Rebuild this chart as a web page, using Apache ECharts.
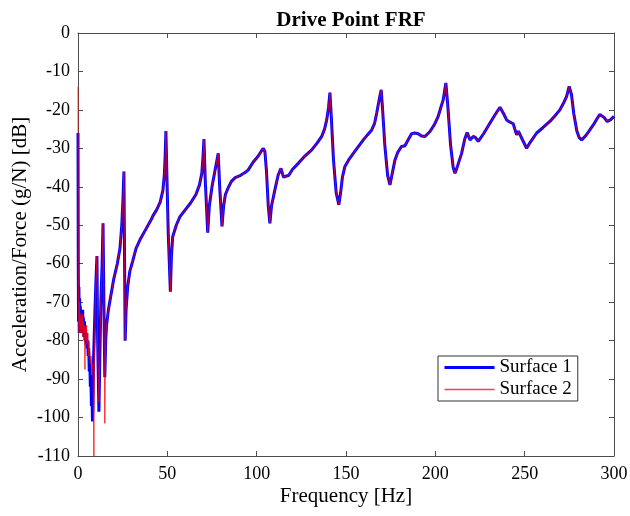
<!DOCTYPE html>
<html lang="en">

<head>
    <meta charset="UTF-8">
    <title>Drive Point FRF</title>
    <script src="https://cdn.jsdelivr.net/npm/echarts@6/dist/echarts.min.js"></script>
    <style>
        html, body { margin: 0; padding: 0; background: #fff; }
        .frf { width: 630px; height: 516px; }
    </style>
</head>

<body>
    <div class="frf"></div>
</body>
<script>
    // low frequency part differs between the two surfaces
    const lowFreq1 = [0, 0.15, 0.3, 0.5, 0.7, 0.9, 1.1, 1.3, 1.5, 1.7, 1.9, 2.1, 2.4, 2.6, 2.8, 3.0, 3.3, 3.6, 3.9, 4.2, 4.5, 4.8, 5.1, 5.4, 5.7, 6.0, 6.3, 6.6, 6.9, 7.2, 7.5, 7.8, 8.1, 8.4, 8.7, 9.0, 9.5, 10.0, 10.6, 11.0, 11.7, 12.2, 12.8, 13.5, 14.0, 14.5, 15.0, 15.5]
    const lowDb1 = [-26, -60, -75, -66, -78, -69, -74, -71, -78, -72, -75, -73, -77, -72, -76, -74, -79, -75, -80, -77, -81, -78, -82, -80, -84, -82, -88, -85, -92, -89, -97, -93, -101, -95, -85, -80, -72, -65, -58, -80, -98.5, -85, -70, -60, -49.5, -70, -89.5, -80]

    const lowFreq2 = [0, 0.1, 0.2, 0.4, 0.6, 0.8, 1.0, 1.2, 1.5, 1.8, 2.1, 2.4, 2.7, 3.0, 3.3, 3.6, 3.9, 4.2, 4.5, 4.8, 5.1, 5.5, 5.8, 6.1, 6.5, 6.9, 7.3, 7.7, 8.1, 8.5, 8.9, 9.2, 9.6, 10.0, 10.6, 11.0, 11.7, 12.2, 12.8, 13.5, 14.0, 14.5, 15.0, 15.5]
    const lowDb2 = [-14, -40, -65, -72, -78, -70, -76, -73, -78, -74, -77, -73, -79, -75, -78, -76, -87.5, -77, -80, -76, -81, -78, -84, -80, -83, -86, -84, -88, -86, -90, -110, -85, -72, -65, -58, -80, -96, -85, -70, -60, -49.5, -70, -101.5, -80]

    // above ~16 Hz both surfaces lie on top of each other
    const freq = [16, 17, 18.5, 20, 22, 23.5, 24.5, 25.2, 25.7, 26.0, 26.4, 26.9, 27.8, 29, 30.5, 32.5, 35, 38, 41, 42, 42.5, 44, 46, 47.5, 48.3, 48.8, 49.2, 49.8, 50.5, 51.7, 52.3, 53, 55, 57, 60, 63, 66, 68, 69.3, 70, 70.5, 71.2, 72.6, 73.5, 75, 77, 78, 78.5, 79.3, 80.6, 81.5, 82.5, 84.1, 86, 88, 91, 93.5, 95.3, 98, 100.9, 102.5, 103.7, 104.6, 105.5, 106.5, 107.4, 108.3, 110.2, 112, 113.6, 115, 115.8, 118, 120, 123.3, 127, 130.8, 134, 136.4, 138, 139.2, 140.2, 141, 141.8, 143, 144.5, 146, 147, 148, 149.4, 151.5, 154.1, 157, 159.7, 162, 164.4, 166, 167.2, 168.5, 169.7, 170.5, 171.7, 173.3, 174.6, 175.7, 177.4, 179, 181.1, 183, 184.5, 186.7, 188.5, 190.4, 192.3, 194.2, 197, 199.5, 201.6, 203, 204.4, 205.9, 207, 208.5, 210, 211, 212.5, 214.7, 216.5, 217.8, 219.4, 221.2, 222.5, 224, 225, 227, 230.6, 233.5, 236.2, 238, 239.9, 241.8, 243.6, 244.5, 245.5, 246.5, 247.3, 248.5, 251.1, 253, 256.7, 260, 264.1, 267, 269.7, 272, 273.5, 274.9, 276.2, 277.5, 279.2, 280.5, 281.9, 284, 286, 288.4, 290.5, 292, 293.1, 294.5, 296.2, 298, 300]
    const dbShared = [-76, -72, -68, -64, -60, -56, -50, -43, -36, -55, -80, -72, -66, -62, -59.5, -56, -53.5, -51, -48.5, -47.5, -47.8, -46, -44, -41, -37, -32, -25.5, -38, -52, -67.3, -58, -53, -50, -47.8, -46, -44.2, -42, -39.5, -36.5, -32, -27.6, -38, -51.9, -45, -40, -35, -32.5, -31.3, -40, -50.3, -45, -42, -40.2, -38.5, -37.6, -37, -36.3, -35.6, -33.6, -32, -30.8, -30, -30.8, -36, -45, -49.5, -45, -40.8, -37, -35.2, -37.5, -37.8, -37, -35.5, -33.9, -32, -30.4, -28.5, -26.9, -25, -22.6, -19.5, -15.5, -22, -33, -41.5, -44.7, -41.5, -37.5, -34.7, -33, -31.3, -29.5, -27.8, -26.5, -25.2, -23.5, -20.8, -17.5, -14.8, -20, -29, -37, -39.5, -37, -33, -31, -29.5, -29.3, -28, -26.2, -26, -26.2, -26.8, -26.9, -25.6, -23.8, -21.7, -19.5, -17.4, -13, -19, -29, -35, -36.5, -34.5, -31.3, -27.5, -25.9, -27.8, -26.9, -27.2, -28.2, -27.8, -26.2, -23.4, -21.2, -19.3, -20.8, -22.6, -23.2, -23.6, -25, -26.5, -25.5, -25.6, -27.5, -30, -28.5, -26, -24.7, -23, -21.5, -20, -18, -16.5, -13.9, -16, -21, -25.5, -27.2, -27.8, -26.8, -25.5, -23.9, -22.3, -21.2, -21, -22, -23, -22.6, -21.7]

    const xTicks = [0, 50, 100, 150, 200, 250, 300]
    const yTicks = [0, -10, -20, -30, -40, -50, -60, -70, -80, -90, -100, -110]

    function pairs(xs, ys) {
        return xs.map((x, i) => [x, ys[i]])
    }
    const surface1 = pairs(lowFreq1, lowDb1).concat(pairs(freq, dbShared))
    const surface2 = pairs(lowFreq2, lowDb2).concat(pairs(freq, dbShared))

    const serif = '"Liberation Serif", "DejaVu Serif", serif'
    const boxColor = '#4d4d4d'
    const blue = '#0000ff'
    const red = 'rgba(255,0,0,0.75)'

    function xAxisCfg(pos, showLabel) {
        return {
            type: 'value',
            position: pos,
            min: xTicks[0],
            max: xTicks[xTicks.length - 1],
            interval: 50,
            axisLine: { show: true, onZero: false, lineStyle: { color: boxColor, width: 1 } },
            axisTick: { show: true, inside: true, length: 5, lineStyle: { color: boxColor } },
            axisLabel: { show: showLabel, color: '#000', fontFamily: serif, fontSize: 18, margin: 9 },
            splitLine: { show: false }
        }
    }

    function yAxisCfg(pos, showLabel) {
        return {
            type: 'value',
            position: pos,
            min: yTicks[yTicks.length - 1],
            max: yTicks[0],
            interval: 10,
            axisLine: { show: true, onZero: false, lineStyle: { color: boxColor, width: 1 } },
            axisTick: { show: true, inside: true, length: 5, lineStyle: { color: boxColor } },
            axisLabel: { show: showLabel, color: '#000', fontFamily: serif, fontSize: 18, margin: 8 },
            splitLine: { show: false }
        }
    }

    let chart = echarts.init(document.querySelector('.frf'))
    let bottomX = xAxisCfg('bottom', true)
    bottomX.name = 'Frequency [Hz]'
    bottomX.nameLocation = 'middle'
    bottomX.nameGap = 30
    bottomX.nameMoveOverlap = false
    bottomX.nameTextStyle = { color: '#000', fontFamily: serif, fontSize: 21 }
    let leftY = yAxisCfg('left', true)
    leftY.name = 'Acceleration/Force (g/N) [dB]'
    leftY.nameLocation = 'middle'
    leftY.nameGap = 47
    leftY.nameMoveOverlap = false
    leftY.nameTextStyle = { color: '#000', fontFamily: serif, fontSize: 21 }

    let option = {
        animation: false,
        backgroundColor: '#fff',
        title: {
            text: 'Drive Point FRF',
            left: 346,
            textAlign: 'center',
            top: 5,
            textStyle: { color: '#000', fontFamily: serif, fontSize: 21, fontWeight: 'bold' }
        },
        grid: { left: 78, right: 16, top: 33, bottom: 60, outerBoundsMode: 'none' },
        xAxis: [bottomX, xAxisCfg('top', false)],
        yAxis: [leftY, yAxisCfg('right', false)],
        legend: {
            orient: 'vertical',
            left: 438,
            top: 356,
            backgroundColor: '#fff',
            borderColor: '#333',
            borderWidth: 1,
            borderRadius: 0,
            padding: [2, 6, 2, 5],
            itemWidth: 50,
            itemHeight: 20,
            itemGap: 3,
            itemStyle: { opacity: 0 },
            textStyle: { color: '#000', fontFamily: serif, fontSize: 19 },
            data: [
                { name: 'Surface 1', lineStyle: { width: 3 } },
                { name: 'Surface 2', lineStyle: { width: 1.5 } }
            ]
        },
        series: [{
            name: 'Surface 1',
            type: 'line',
            data: surface1,
            symbol: 'none',
            lineStyle: { color: blue, width: 3 },
            itemStyle: { color: blue }
        }, {
            name: 'Surface 2',
            type: 'line',
            data: surface2,
            symbol: 'none',
            lineStyle: { color: red, width: 1 },
            itemStyle: { color: red }
        }]
    }
    chart.setOption(option)
</script>

</html>
